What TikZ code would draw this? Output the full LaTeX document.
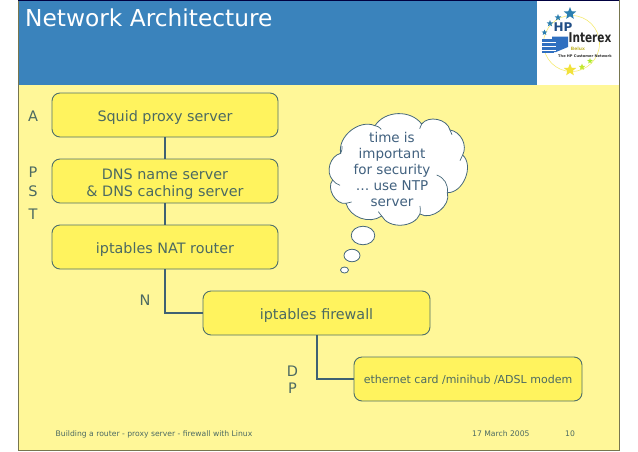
\documentclass[tikz,border=0pt]{standalone}
\usepackage{fontspec}
\setmainfont{DejaVu Sans}
\usetikzlibrary{shapes.geometric}
\definecolor{bgyellow}{HTML}{FFF798}
\definecolor{boxyellow}{HTML}{FFF35E}
\definecolor{boxline}{HTML}{4E6F6B}
\definecolor{boxtext}{HTML}{4C6A62}
\definecolor{cloudtext}{HTML}{41617F}
\definecolor{cloudline}{HTML}{46687A}
\definecolor{band}{HTML}{3A83BC}
\definecolor{frame}{HTML}{77764F}
\definecolor{lineblue}{HTML}{3F6173}
\definecolor{hpblue}{HTML}{2F6FC0}
\definecolor{starblue}{HTML}{2C7FB0}
\definecolor{staryellow}{HTML}{F2E23A}
\newcommand\lowtext[2][6]{\raisebox{-#1pt}[0pt][0pt]{#2}}
\tikzset{
  stagebox/.style={draw=boxline,line width=0.9pt,fill=boxyellow,rounded corners=8pt,inner sep=0pt,align=center,text=boxtext,font=\fontsize{14.35}{17}\selectfont},
  sidelabel/.style={text=boxtext,font=\fontsize{14.5}{17}\selectfont,inner sep=0pt},
  linkline/.style={draw=lineblue,line width=2pt},
  foot/.style={text=boxtext,font=\fontsize{7.65}{10}\selectfont,inner sep=0pt},
  puff/.style={draw=cloudline,line width=0.8pt,fill=white},
  staricon/.style={star,star points=5,star point ratio=2.3,inner sep=0pt,fill=#1}
}
\begin{document}
\begin{tikzpicture}[x=1pt,y=-1pt]
\useasboundingbox (0,0) rectangle (638,451);
\fill[white] (0,0) rectangle (638,451);
\fill[bgyellow] (18,0) rectangle (619,450);
\fill[band] (18,0) rectangle (537,84.5);
\fill[white] (537,0) rectangle (619,84.5);
\draw[frame,line width=0.9pt] (18.5,0) -- (18.5,450) -- (619,450) -- (619,0);
\draw[black!75!blue,line width=0.8pt] (18,0.4) -- (619,0.4);
\node[text=white,anchor=base west,inner sep=0pt,font=\fontsize{23.3}{26}\selectfont] (title) at (25,26) {Network Architecture};
% logo
\draw[staryellow!70!white,line width=0.6pt] (571.5,43.5) circle (28);
\node[staricon=starblue,minimum size=13pt] (s1) at (570,13.5) {};
\node[staricon=starblue,minimum size=7pt] (s2) at (558,17.5) {};
\node[staricon=starblue,minimum size=7pt] (s3) at (550,23.5) {};
\node[staricon=starblue,minimum size=6pt] (s4) at (544.5,32.5) {};
\node[staricon=staryellow,minimum size=13pt] (s5) at (570,70) {};
\node[staricon=staryellow!80!green,minimum size=7pt] (s6) at (582,67) {};
\node[staricon=staryellow!70!green,minimum size=6pt] (s7) at (590,61) {};
\fill[hpblue] (552,36.5) -- (568,36.5) -- (568,47) -- (556,52) -- (552,52) -- cycle;
\fill[hpblue] (542,38.5) rectangle (554,53);
\foreach \yy in {42,46,50} {\draw[white,line width=0.5pt] (542,\yy) -- (556,\yy);}
\node[text=hpblue!70!black,inner sep=0pt,font=\bfseries\fontsize{12}{12}\selectfont] (hp) at (563,27.5) {HP};
\node[text=black!85,inner sep=0pt,font=\bfseries\fontsize{13.5}{14}\selectfont,xscale=0.78] (ix) at (590,38) {Interex};
\node[text=staryellow!80!black,inner sep=0pt,font=\bfseries\fontsize{4.5}{5}\selectfont] (bx) at (578,49) {Belux};
\node[text=black!80,inner sep=0pt,font=\bfseries\fontsize{3.6}{4}\selectfont] (tag) at (585,56) {The HP Customer Network};
% boxes
\node[stagebox,minimum width=226pt,minimum height=44pt] (squid) at (165,115) {\lowtext{Squid proxy server}};
\node[stagebox,minimum width=226pt,minimum height=44pt] (dns) at (165,181) {\lowtext[6.5]{DNS name server}\\\lowtext[6.5]{\& DNS caching server}};
\node[stagebox,minimum width=226pt,minimum height=44pt] (nat) at (165,247) {\lowtext{iptables NAT router}};
\node[stagebox,minimum width=227pt,minimum height=44pt] (fw) at (316.5,313) {\lowtext{iptables firewall}};
\node[stagebox,minimum width=228pt,minimum height=44pt,font=\fontsize{11}{14}\selectfont] (eth) at (468,379) {\lowtext[4.5]{ethernet card /minihub /ADSL modem}};
\draw[linkline] (squid) -- (dns);
\draw[linkline] (dns) -- (nat);
\draw[linkline] (nat.south) |- (fw.west);
\draw[linkline] (fw.south) |- (eth.west);
% side labels
\node[sidelabel] (la) at (33,116) {A};
\node[sidelabel] (lp) at (33,172) {P};
\node[sidelabel] (ls) at (33,191) {S};
\node[sidelabel] (lt) at (33,214) {T};
\node[sidelabel] (ln) at (145,300) {N};
\node[sidelabel] (ld) at (292.5,371) {D};
\node[sidelabel] (lp2) at (292.5,388) {P};
% cloud
\begin{scope}[shift={(310,110)},x=0.3333pt,y=-0.3333pt]
\draw[puff] (92,130) to[bend left=62] (195,47) to[bend left=55] (335,42) to[bend left=65] (420,60)
  to[bend left=55] (458,135) to[bend left=70] (412,248) to[bend left=70] (330,312) to[bend left=65] (215,318)
  to[bend left=55] (108,280) to[bend left=70] (68,210) to[bend left=60] (92,130) -- cycle;
\draw[cloudline,line width=0.7pt] (92,130) to[bend right=15] (96,108);
\draw[cloudline,line width=0.7pt] (195,47) to[bend left=20] (214,58);
\draw[cloudline,line width=0.7pt] (335,42) to[bend right=10] (329,56);
\draw[cloudline,line width=0.7pt] (420,60) to[bend left=15] (426,74);
\draw[cloudline,line width=0.7pt] (458,135) to[bend left=15] (450,152);
\draw[cloudline,line width=0.7pt] (380,195) to[bend left=40] (412,248);
\draw[cloudline,line width=0.7pt] (330,312) to[bend right=10] (330,288);
\draw[cloudline,line width=0.7pt] (215,318) to[bend left=15] (205,305);
\draw[cloudline,line width=0.7pt] (108,280) to[bend left=15] (125,276);
\draw[cloudline,line width=0.7pt] (68,210) to[bend right=15] (90,226);
\end{scope}
\node[text=cloudtext,align=center,inner sep=0pt,font=\fontsize{13.5}{16.2}\selectfont] (cloudtxt) at (392,169.5) {time is\\important\\for security\\… use NTP\\server};
\node[puff,ellipse,minimum width=23.5pt,minimum height=18.5pt,inner sep=0pt] (b1) at (363,235.5) {};
\node[puff,ellipse,minimum width=16pt,minimum height=12.5pt,inner sep=0pt] (b2) at (352,255.5) {};
\node[puff,ellipse,minimum width=8pt,minimum height=6pt,inner sep=0pt] (b3) at (344.5,270) {};
% footer
\node[foot,anchor=base west] (f1) at (55.5,436) {Building a router - proxy server - firewall with Linux};
\node[foot,anchor=base west] (f2) at (472,436) {17 March 2005};
\node[foot,anchor=base west] (f3) at (565,436) {10};
\end{tikzpicture}
\end{document}
